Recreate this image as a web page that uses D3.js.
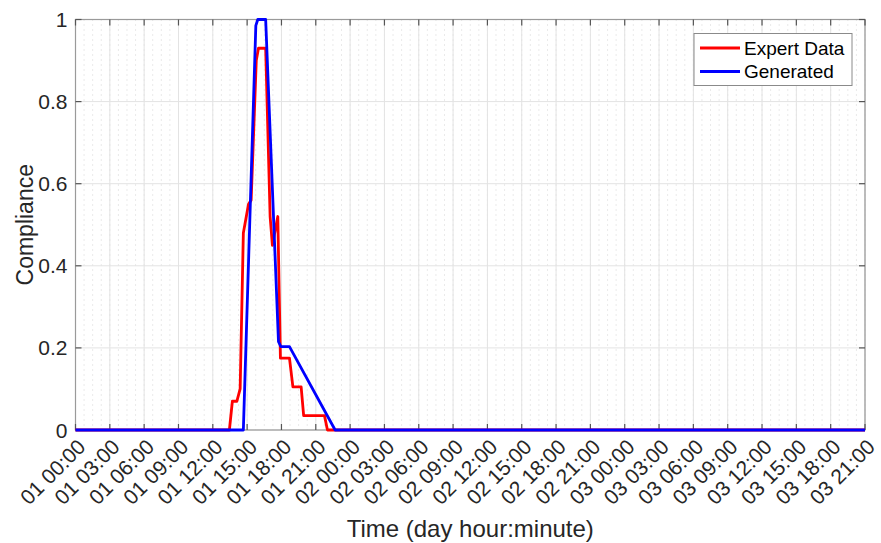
<!DOCTYPE html>
<html>
<head>
<meta charset="utf-8">
<script src="https://cdn.jsdelivr.net/npm/d3@7"></script>
<style>
  html, body { margin: 0; padding: 0; background: #fff; }
  svg { display: block; font-family: "Liberation Sans", Arial, Helvetica, sans-serif; }
</style>
</head>
<body>
<svg id="chart" width="881" height="543"></svg>
<script>
// ---- data (hours since day 01 00:00) ----
const expertHours  = [0, 13.45, 13.71, 14.10, 14.39, 14.67, 15.12, 15.35, 15.80, 15.99, 16.62, 17.01, 17.21, 17.68, 17.91, 18.70, 19.00, 19.72, 19.94, 21.76, 22.02, 69];
const expertValues = [0, 0,     0.07,  0.07,  0.10,  0.48,  0.55,  0.56,  0.90,  0.93,  0.93,  0.52,  0.45,  0.52,  0.175, 0.175, 0.105, 0.105, 0.035, 0.035, 0,     0];
const generatedHours  = [0, 14.67, 15.76, 15.93, 16.62, 17.74, 17.95, 18.70, 22.69, 69];
const generatedValues = [0, 0,     0.985, 1.0,   1.0,   0.215, 0.203, 0.203, 0,     0];
const yTicks = [0, 0.2, 0.4, 0.6, 0.8, 1];
const yTickLabels = ["0", "0.2", "0.4", "0.6", "0.8", "1"];
const seriesNames = ["Expert Data", "Generated"];
const seriesColors = ["#ff0000", "#0000ff"];
const xLabel = "Time (day hour:minute)";
const yLabel = "Compliance";

// ---- layout ----
const svg = d3.select("#chart");
const L = 75.5, R = 865, T = 19.5, B = 430;
const t0 = Date.UTC(2000, 0, 1, 0, 0);
const toDate = h => new Date(t0 + h * 3600e3);
const x = d3.scaleUtc().domain([toDate(0), toDate(69)]).range([L, R]);
const y = d3.scaleLinear().domain([0, 1]).range([B, T]);

const xMajor = d3.utcHour.every(3).range(toDate(0), toDate(69.01));
const xMinor = d3.range(0, 69 * 60 + 1, 45).map(m => toDate(m / 60));
const fmt = d3.utcFormat("%d %H:%M");

// minor grid (dotted, vertical)
svg.append("g").selectAll("line").data(xMinor).join("line")
  .attr("x1", d => x(d)).attr("x2", d => x(d))
  .attr("y1", T).attr("y2", B)
  .attr("stroke", "#d4d4d4").attr("stroke-width", 1)
  .attr("stroke-dasharray", "1,4");

// major grid
svg.append("g").selectAll("line").data(xMajor).join("line")
  .attr("x1", d => x(d)).attr("x2", d => x(d))
  .attr("y1", T).attr("y2", B)
  .attr("stroke", "#e3e3e3").attr("stroke-width", 1);
svg.append("g").selectAll("line").data(yTicks).join("line")
  .attr("x1", L).attr("x2", R)
  .attr("y1", d => y(d)).attr("y2", d => y(d))
  .attr("stroke", "#e3e3e3").attr("stroke-width", 1);

// axes box
svg.append("rect").attr("x", L).attr("y", T).attr("width", R - L).attr("height", B - T)
  .attr("fill", "none").attr("stroke", "#9a9a9a").attr("stroke-width", 1.2);

// ticks (inward, on both sides)
const tickLen = 6;
const tg = svg.append("g").attr("stroke", "#555").attr("stroke-width", 1.2);
xMajor.forEach(d => {
  tg.append("line").attr("x1", x(d)).attr("x2", x(d)).attr("y1", B).attr("y2", B - tickLen);
  tg.append("line").attr("x1", x(d)).attr("x2", x(d)).attr("y1", T).attr("y2", T + tickLen);
});
yTicks.forEach(d => {
  tg.append("line").attr("x1", L).attr("x2", L + tickLen).attr("y1", y(d)).attr("y2", y(d));
  tg.append("line").attr("x1", R).attr("x2", R - tickLen).attr("y1", y(d)).attr("y2", y(d));
});

// lines (drawn over the axes, like the reference)
const line = d3.line().x(d => x(toDate(d[0]))).y(d => y(d[1]));
const series = [
  d3.zip(expertHours, expertValues),
  d3.zip(generatedHours, generatedValues)
];
series.forEach((s, i) => {
  svg.append("path").datum(s)
    .attr("d", line)
    .attr("fill", "none")
    .attr("stroke", seriesColors[i])
    .attr("stroke-width", 2.8)
    .attr("stroke-linejoin", "round");
});

// y tick labels
svg.append("g").selectAll("text").data(yTicks).join("text")
  .attr("x", L - 8).attr("y", d => y(d))
  .attr("text-anchor", "end").attr("dominant-baseline", "central")
  .attr("font-size", 21).attr("fill", "#262626")
  .text((d, i) => yTickLabels[i]);

// x tick labels rotated
svg.append("g").selectAll("text").data(xMajor).join("text")
  .attr("transform", d => `translate(${x(d) + 6},${B + 13}) rotate(-45)`)
  .attr("text-anchor", "end").attr("dominant-baseline", "central")
  .attr("font-size", 21).attr("fill", "#262626")
  .text(d => fmt(d));

// axis labels
svg.append("text").attr("x", (L + R) / 2).attr("y", 537)
  .attr("text-anchor", "middle").attr("font-size", 24).attr("fill", "#262626")
  .text(xLabel);
svg.append("text").attr("transform", `translate(33,${(T + B) / 2}) rotate(-90)`)
  .attr("text-anchor", "middle").attr("font-size", 23).attr("fill", "#262626")
  .text(yLabel);

// legend
const lg = svg.append("g");
lg.append("rect").attr("x", 694).attr("y", 33.5).attr("width", 158).attr("height", 52)
  .attr("fill", "#fff").attr("stroke", "#8a8a8a").attr("stroke-width", 1);
seriesNames.forEach((n, i) => {
  const yy = 48 + i * 23.5;
  lg.append("line").attr("x1", 700).attr("x2", 740).attr("y1", yy).attr("y2", yy)
    .attr("stroke", seriesColors[i]).attr("stroke-width", 2.8);
  lg.append("text").attr("x", 744).attr("y", yy).attr("dominant-baseline", "central")
    .attr("font-size", 19).attr("fill", "#000").text(n);
});
</script>
</body>
</html>
